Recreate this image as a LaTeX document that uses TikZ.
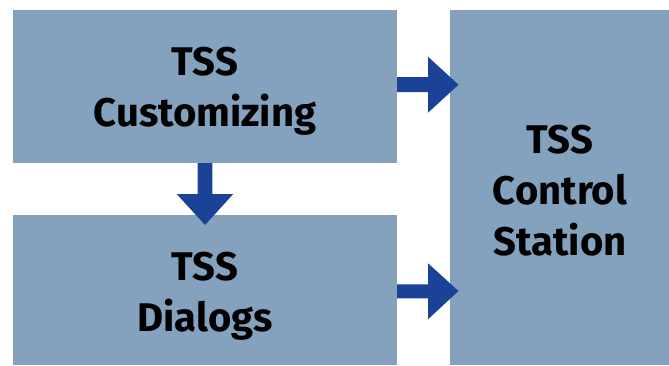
\documentclass[tikz,border=0pt]{standalone}
\usepackage{fontspec}
\setmainfont{Fira Sans}
\usetikzlibrary{calc}
\definecolor{boxc}{HTML}{84A2BD}
\definecolor{arrc}{HTML}{1A4397}
\begin{document}
\begin{tikzpicture}[x=1pt,y=-1pt,
  box/.style={fill=boxc,draw=none,inner sep=0pt,outer sep=0pt,rectangle},
  lbl/.style={inner sep=0pt,outer sep=0pt,align=center,anchor=north,
    font=\fontsize{40}{51}\selectfont\bfseries},
  blk/.style={fill=arrc,draw=none}]
\useasboundingbox (0,0) rectangle (669,365);
\node[box,minimum width=384pt,minimum height=153pt] (cust) at (205,86.5) {};
\node[box,minimum width=384pt,minimum height=150pt] (dial) at (205,290) {};
\node[box,minimum width=219pt,minimum height=355pt] (ctrl) at (559.5,187.5) {};
\node[lbl] (tcust) at (205,47) {TSS\\Customizing};
\node[lbl] (tdial) at (205,252) {TSS\\Dialogs};
\node[lbl] (tctrl) at (560,125) {TSS\\Control\\Station};
% arrow customizing -> control station
\fill[blk] ($(cust.east)+(0,-9.5)$) -- ++(31,0) -- ++(0,-20.3) -- ($(cust.east)+(61.5,-1.8)$)
  -- ($(cust.east)+(31,26.2)$) -- ++(0,-20.7) -- ($(cust.east)+(0,5.5)$) -- cycle;
% arrow dialogs -> control station
\fill[blk] ($(dial.east)+(0,-5.7)$) -- ++(31,0) -- ++(0,-21) -- ($(dial.east)+(61.5,1)$)
  -- ($(dial.east)+(31,29.3)$) -- ++(0,-21) -- ($(dial.east)+(0,8.3)$) -- cycle;
% arrow customizing -> dialogs
\fill[blk] ($(cust.south)+(-7.3,0)$) -- ++(0,31) -- ++(-21,0) -- ($(cust.south)+(0,62)$)
  -- ($(cust.south)+(28.3,31)$) -- ++(-21,0) -- ($(cust.south)+(7.3,0)$) -- cycle;
\end{tikzpicture}
\end{document}
